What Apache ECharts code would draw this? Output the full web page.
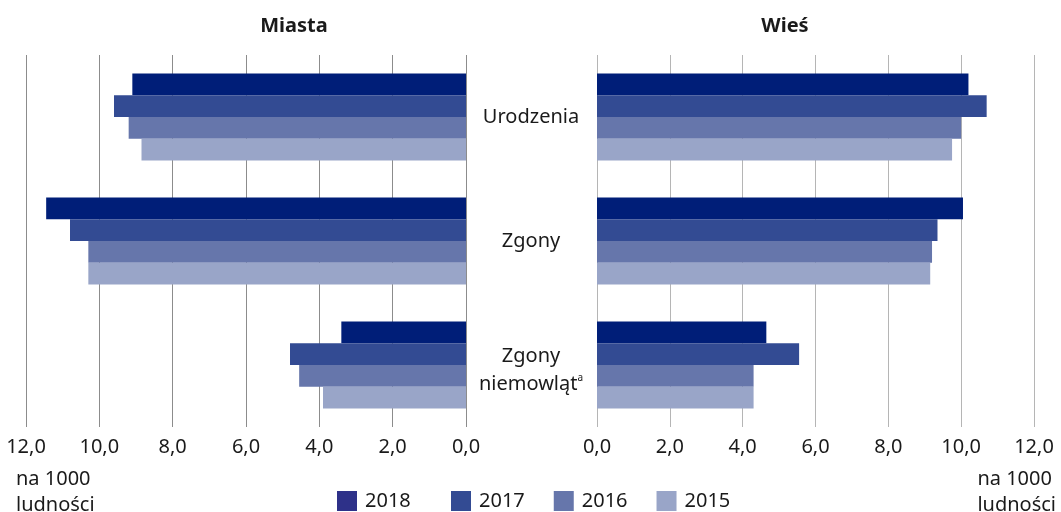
<!DOCTYPE html>
<html><head><meta charset="utf-8">
<script src="https://cdn.jsdelivr.net/npm/echarts@6/dist/echarts.min.js"></script>
<style>html,body{margin:0;padding:0;background:#fff}#c{width:1061px;height:512px}</style>
</head><body><div id="c"></div>
<script>
const categories = ['Urodzenia', 'Zgony', 'Zgony niemowląt'];
const years = ['2018', '2017', '2016', '2015'];
const miasta2018 = [9.1, 11.45, 3.4];
const miasta2017 = [9.6, 10.8, 4.8];
const miasta2016 = [9.2, 10.3, 4.55];
const miasta2015 = [8.85, 10.3, 3.9];
const wies2018 = [10.2, 10.05, 4.65];
const wies2017 = [10.7, 9.35, 5.55];
const wies2016 = [10.0, 9.2, 4.3];
const wies2015 = [9.75, 9.15, 4.3];
const colors = ['#001e78', '#334b93', '#6676ab', '#99a5c8'];
const font = '"Noto Sans", sans-serif';
const txt = '#1a1a1a';

const chart = echarts.init(document.getElementById('c'), null, {renderer: 'canvas'});
const fmt = v => v.toFixed(1).replace('.', ',');
const catLabel = v => v === 'Zgony niemowląt' ? '{sp| }\nZgony\nniemowląt{sup|a}' : v;
const miasta = [miasta2018, miasta2017, miasta2016, miasta2015];
const wies = [wies2018, wies2017, wies2016, wies2015];
const series = [];
years.forEach((y, i) => {
  series.push({name: y, type: 'bar', xAxisIndex: 0, yAxisIndex: 0, data: miasta[i],
    itemStyle: {color: colors[i]}, barGap: '0%', barCategoryGap: '30%', silent: true});
});
years.forEach((y, i) => {
  series.push({name: y, type: 'bar', xAxisIndex: 1, yAxisIndex: 1, data: wies[i],
    itemStyle: {color: colors[i]}, barGap: '0%', barCategoryGap: '30%', silent: true});
});
const xCommon = (inverse, gridIndex, lineColor) => ({
  type: 'value', gridIndex, min: 0, max: 12, interval: 2, inverse,
  axisLine: {show: false}, axisTick: {show: false},
  splitLine: {show: true, lineStyle: {color: lineColor, width: 1}},
  axisLabel: {formatter: fmt, color: txt, fontFamily: font, fontSize: 20, margin: 10}
});
const legendCommon = {
  top: 491, padding: 0, itemWidth: 20, itemHeight: 20, icon: 'rect',
  textStyle: {color: txt, fontFamily: font, fontSize: 20, padding: [0, 0, 0, 3]}
};
chart.setOption({
  animation: false,
  textStyle: {fontFamily: font},
  grid: [
    {left: 26, right: 595, top: 55, height: 372},
    {left: 597, right: 27, top: 55, height: 372}
  ],
  xAxis: [xCommon(true, 0, '#8c8c8c'), xCommon(false, 1, '#b5b5b5')],
  yAxis: [
    {type: 'category', gridIndex: 0, data: categories, inverse: true, position: 'right',
      axisLine: {show: false}, axisTick: {show: false},
      axisLabel: {formatter: catLabel, align: 'center', margin: 65, color: txt, fontFamily: font,
        fontSize: 20, lineHeight: 28,
        rich: {
          sp: {fontSize: 1, lineHeight: 10},
          sup: {fontSize: 10, color: txt, fontFamily: font, padding: [0, 0, 12, 0]}
        }}},
    {type: 'category', gridIndex: 1, data: categories, inverse: true,
      axisLine: {show: false}, axisTick: {show: false}, axisLabel: {show: false}}
  ],
  legend: [
    Object.assign({}, legendCommon, {left: 337, itemGap: 29,
      data: [{name: years[0], itemStyle: {color: '#2e3189'}}]}),
    Object.assign({}, legendCommon, {left: 451, itemGap: 29,
      data: [years[1], years[2], years[3]]})
  ],
  title: [
    {text: 'Miasta', left: 289, top: 11, textAlign: 'center',
      textStyle: {fontFamily: font, fontWeight: 'bold', fontSize: 20, color: txt}},
    {text: 'Wieś', left: 780, top: 11, textAlign: 'center',
      textStyle: {fontFamily: font, fontWeight: 'bold', fontSize: 20, color: txt}}
  ],
  graphic: [
    {type: 'text', left: 16, top: 466, style: {text: 'na 1000\nludności', fill: txt,
      font: '20px ' + font, lineHeight: 26}},
    {type: 'text', right: 5, top: 466, style: {text: 'na 1000\nludności', fill: txt,
      font: '20px ' + font, lineHeight: 26, align: 'right'}}
  ],
  series
});
</script></body></html>
